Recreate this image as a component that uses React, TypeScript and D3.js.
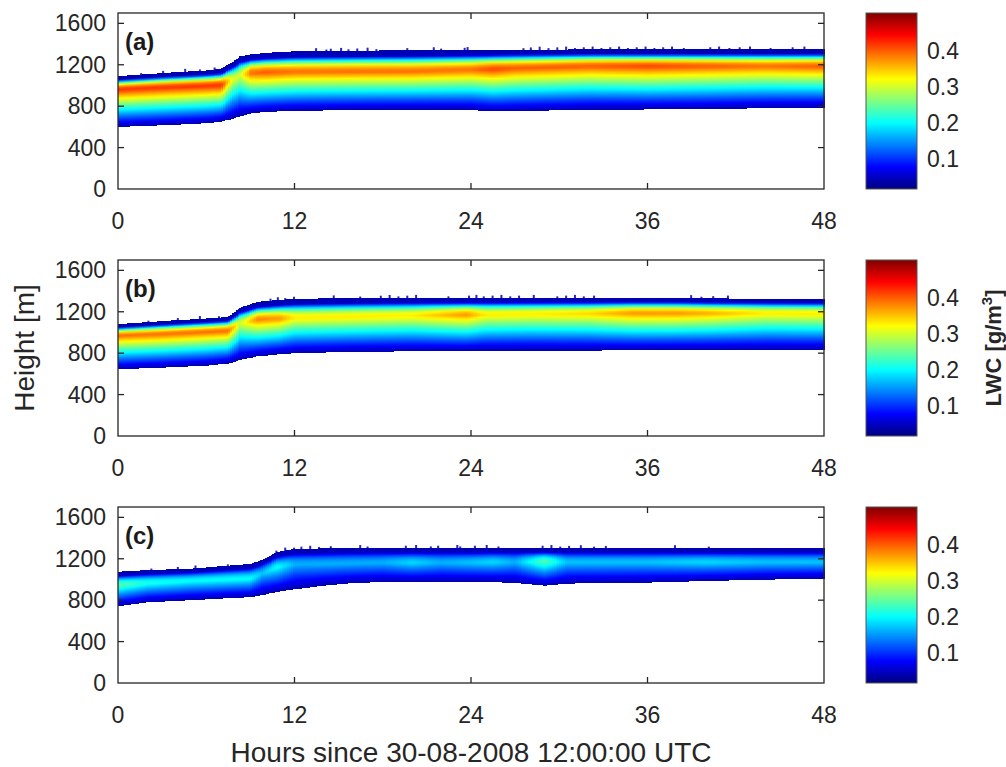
import * as d3 from 'd3'

// hours since 30-08-2008 12:00 UTC, key times
const HOURS_A = [0, 3, 6, 7, 7.8, 8.3, 9, 10, 12, 16, 20, 24, 25.5, 27, 32, 36, 40, 44, 48]
const BASE_A = [600, 615, 635, 650, 680, 705, 730, 745, 755, 762, 765, 763, 750, 752, 766, 768, 772, 780, 785]
const TOP_A = [1090, 1120, 1145, 1160, 1230, 1280, 1300, 1315, 1330, 1336, 1340, 1343, 1345, 1346, 1348, 1348, 1348, 1348, 1348]
const PEAK_A = [0.42, 0.42, 0.42, 0.42, 0.31, 0.3, 0.39, 0.4, 0.39, 0.39, 0.39, 0.39, 0.41, 0.4, 0.4, 0.41, 0.4, 0.39, 0.4]
const PEAKH_A = [957, 975, 990, 995, 1050, 1090, 1115, 1120, 1125, 1128, 1130, 1145, 1150, 1160, 1180, 1180, 1180, 1180, 1180]

const HOURS_B = [0, 3, 6, 7.5, 8.3, 9.5, 11, 12, 16, 20, 23.7, 25, 28, 32, 35, 38, 40, 44, 48]
const BASE_B = [645, 660, 680, 700, 735, 770, 790, 800, 812, 818, 820, 822, 825, 825, 828, 830, 830, 830, 830]
const TOP_B = [1080, 1110, 1135, 1150, 1240, 1295, 1315, 1325, 1333, 1335, 1335, 1335, 1335, 1335, 1335, 1335, 1330, 1325, 1325]
const PEAK_B = [0.39, 0.39, 0.39, 0.39, 0.3, 0.38, 0.37, 0.33, 0.33, 0.33, 0.37, 0.33, 0.33, 0.34, 0.37, 0.37, 0.36, 0.33, 0.33]
const PEAKH_B = [965, 980, 1000, 1010, 1080, 1120, 1127, 1135, 1145, 1155, 1165, 1165, 1170, 1175, 1180, 1180, 1180, 1180, 1175]

const HOURS_C = [0, 2, 5, 9, 9.8, 10.8, 11.5, 12, 14, 16, 18, 20, 22, 24, 25.5, 27, 29, 30.5, 33, 36, 40, 44, 48]
const BASE_C = [740, 780, 800, 830, 850, 880, 895, 905, 940, 965, 975, 975, 975, 975, 975, 965, 940, 960, 965, 970, 985, 998, 1008]
const TOP_C = [1075, 1090, 1105, 1150, 1190, 1265, 1285, 1295, 1300, 1304, 1305, 1305, 1305, 1305, 1305, 1305, 1305, 1303, 1303, 1303, 1303, 1303, 1303]
const PEAK_C = [0.24, 0.21, 0.2, 0.2, 0.17, 0.2, 0.18, 0.16, 0.16, 0.16, 0.16, 0.18, 0.16, 0.17, 0.18, 0.16, 0.24, 0.17, 0.17, 0.17, 0.18, 0.17, 0.17]
const PEAKH_C = [940, 960, 980, 1000, 1050, 1110, 1130, 1140, 1145, 1150, 1155, 1155, 1155, 1155, 1160, 1160, 1165, 1160, 1160, 1160, 1160, 1160, 1160]

// hours where the cloud top shows small ragged spikes
const SPIKES_A = [1.5, 3, 4.5, 5.5, 6.5, 13.4, 14.1, 14.4, 15.1, 15.6, 16.2, 16.9, 17.5, 19.6, 21.4, 21.9, 23.5, 23.7, 27.5, 28, 28.6, 29.2, 29.8, 30.4, 31, 31.6, 32.2, 32.8, 33.4, 34, 34.6, 35.2, 35.8, 36.4, 37, 37.6, 38.4, 40.2, 40.8, 41.5, 42.2, 42.9, 44.3, 45.8, 46.6]
const SPIKES_B = [2, 4, 5.5, 6.8, 10.3, 10.8, 11.3, 11.9, 14.6, 16.4, 17.8, 18.4, 19, 19.6, 20.2, 22.4, 23.8, 24.3, 24.8, 25.4, 26, 26.6, 27.2, 28.2, 29.8, 30.4, 31, 31.6, 32.3, 38.9, 39.6, 40.4, 41.4]
const SPIKES_C = [2.2, 4, 5.2, 7.4, 10.7, 11.3, 11.9, 12.4, 13, 13.6, 14.4, 16.4, 16.9, 19.5, 20.2, 21.2, 21.7, 23, 23.2, 24.2, 25, 25.8, 28.8, 29.4, 30, 30.6, 31.4, 32.3, 33.1, 37.8, 40.1]

const X_TICKS = [0, 12, 24, 36, 48]
const Y_TICKS = [0, 400, 800, 1200, 1600]
const C_TICKS = [0.1, 0.2, 0.3, 0.4]
const LWC_RANGE = [0.015, 0.505]
const EDGE_LWC = 0.04

const PANELS = [
  { label: '(a)', hours: HOURS_A, base: BASE_A, top: TOP_A, peak: PEAK_A, peakH: PEAKH_A, spikes: SPIKES_A },
  { label: '(b)', hours: HOURS_B, base: BASE_B, top: TOP_B, peak: PEAK_B, peakH: PEAKH_B, spikes: SPIKES_B },
  { label: '(c)', hours: HOURS_C, base: BASE_C, top: TOP_C, peak: PEAK_C, peakH: PEAKH_C, spikes: SPIKES_C }
]

const W = 1006
const H = 767
const PLOT_L = 118
const PLOT_R = 824
const PANEL_TOPS = [13, 260, 507]
const PANEL_H = 176
const CB_L = 866
const CB_R = 917
const TEXT = '#262626'
const FONT = '"Liberation Sans", Arial, Helvetica, sans-serif'

// MATLAB jet
const jet = (t: number) => {
  const c = (v: number) => Math.round(255 * Math.max(0, Math.min(1, v)))
  return `rgb(${c(1.5 - Math.abs(4 * t - 3))},${c(1.5 - Math.abs(4 * t - 2))},${c(1.5 - Math.abs(4 * t - 1))})`
}
const norm = d3.scaleLinear().domain(LWC_RANGE).range([0, 1]).clamp(true)

const STEP = 0.125
const N_STOPS = 30

// LWC inside the cloud: near-linear rise from base to the peak, sharper fall to the top
const profile = (z: number, zb: number, zt: number, zp: number, pk: number) => {
  let g
  if (z <= zp) g = Math.pow(Math.max(0, (z - zb) / (zp - zb)), 1.15)
  else g = Math.max(0, 1 - Math.pow((z - zp) / ((zt - zp) * 0.74), 2))
  return EDGE_LWC + (pk - EDGE_LWC) * g
}

export default function App() {
  const xScale = d3.scaleLinear().domain([0, 48]).range([PLOT_L, PLOT_R])
  const cols = d3.range(0, 48, STEP)

  return (
    <svg width={W} height={H} style={{ position: 'absolute', left: 0, top: 0, background: '#fff' }}
      fontFamily={FONT}>
      <defs>
        <linearGradient id="cbar" x1="0" y1="1" x2="0" y2="0">
          {d3.range(0, 1.0001, 1 / 32).map((t, i) => (
            <stop key={i} offset={t} stopColor={jet(t)} />
          ))}
        </linearGradient>
      </defs>

      {PANELS.map((p, pi) => {
        const top = PANEL_TOPS[pi]
        const bottom = top + PANEL_H
        const yScale = d3.scaleLinear().domain([0, 1700]).range([bottom, top])
        const baseAt = d3.scaleLinear().domain(p.hours).range(p.base)
        const topAt = d3.scaleLinear().domain(p.hours).range(p.top)
        const peakAt = d3.scaleLinear().domain(p.hours).range(p.peak)
        const peakHAt = d3.scaleLinear().domain(p.hours).range(p.peakH)
        const cScale = d3.scaleLinear().domain(LWC_RANGE).range([bottom, top])

        return (
          <g key={p.label}>
            <defs>
              {cols.map((h, ci) => {
                const hc = h + STEP / 2
                const zb = baseAt(hc), zt = topAt(hc), pk = peakAt(hc), zp = peakHAt(hc)
                return (
                  <linearGradient key={ci} id={`g${pi}-${ci}`} x1="0" y1="1" x2="0" y2="0">
                    {d3.range(N_STOPS + 1).map(k => {
                      const s = k / N_STOPS
                      const lwc = profile(zb + s * (zt - zb), zb, zt, zp, pk)
                      return <stop key={k} offset={s} stopColor={jet(norm(lwc))} />
                    })}
                  </linearGradient>
                )
              })}
            </defs>

            {/* ragged cloud-top spikes */}
            {p.spikes.map((h, si) => {
              const y0 = yScale(topAt(h) + 14 + (si % 3) * 7)
              return (
                <rect key={`s${si}`} x={xScale(h)} y={y0} width={2} height={yScale(topAt(h)) - y0 + 1}
                  fill={jet(norm(EDGE_LWC))} opacity={0.85} />
              )
            })}

            {/* LWC columns */}
            {cols.map((h, ci) => {
              const hc = h + STEP / 2
              const y0 = yScale(topAt(hc))
              const y1 = yScale(baseAt(hc))
              return (
                <rect key={ci} x={xScale(h)} y={y0} width={xScale(h + STEP) - xScale(h) + 0.6}
                  height={y1 - y0} fill={`url(#g${pi}-${ci})`} shapeRendering="crispEdges" />
              )
            })}

            {/* axes box and inward ticks */}
            <rect x={PLOT_L} y={top} width={PLOT_R - PLOT_L} height={PANEL_H} fill="none"
              stroke={TEXT} strokeWidth={1.3} />
            {X_TICKS.slice(1, -1).map(t => (
              <g key={`xt${t}`}>
                <line x1={xScale(t)} x2={xScale(t)} y1={bottom} y2={bottom - 6} stroke={TEXT} strokeWidth={1.3} />
                <line x1={xScale(t)} x2={xScale(t)} y1={top} y2={top + 6} stroke={TEXT} strokeWidth={1.3} />
              </g>
            ))}
            {Y_TICKS.slice(1).map(t => (
              <g key={`yt${t}`}>
                <line x1={PLOT_L} x2={PLOT_L + 6} y1={yScale(t)} y2={yScale(t)} stroke={TEXT} strokeWidth={1.3} />
                <line x1={PLOT_R} x2={PLOT_R - 6} y1={yScale(t)} y2={yScale(t)} stroke={TEXT} strokeWidth={1.3} />
              </g>
            ))}
            {X_TICKS.map(t => (
              <text key={`xl${t}`} x={xScale(t)} y={bottom + 40} textAnchor="middle" fontSize={23} fill={TEXT}>{t}</text>
            ))}
            {Y_TICKS.map(t => (
              <text key={`yl${t}`} x={106} y={yScale(t)} dy="0.35em" textAnchor="end" fontSize={23} fill={TEXT}>{t}</text>
            ))}
            <text x={125} y={top + 37} fontSize={24} fontWeight="bold" fill="#1a1a1a">{p.label}</text>

            {/* colorbar */}
            <rect x={CB_L} y={top} width={CB_R - CB_L} height={PANEL_H} fill="url(#cbar)"
              stroke="#555" strokeWidth={1} />
            {C_TICKS.map(t => (
              <text key={`c${t}`} x={927} y={cScale(t)} dy="0.35em" fontSize={23} fill={TEXT}>{t}</text>
            ))}
          </g>
        )
      })}

      <text transform={`translate(34,348) rotate(-90)`} textAnchor="middle" fontSize={28} fill={TEXT}>Height [m]</text>
      <text transform={`translate(1001,348) rotate(-90)`} textAnchor="middle" fontSize={22} fontWeight="bold" fill={TEXT}>
        LWC [g/m<tspan fontSize={15} dy={-9}>3</tspan><tspan dy={9}>]</tspan>
      </text>
      <text x={471} y={762} textAnchor="middle" fontSize={28} fill={TEXT}>Hours since 30-08-2008 12:00:00 UTC</text>
    </svg>
  )
}
